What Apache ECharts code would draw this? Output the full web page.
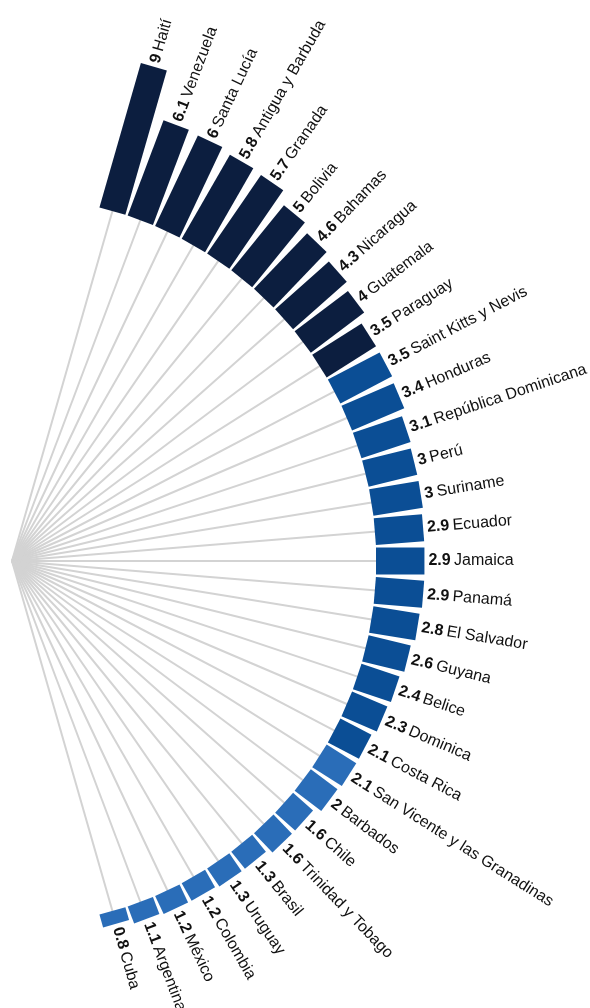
<!DOCTYPE html>
<html>
<head>
<meta charset="utf-8">
<script src="https://cdn.jsdelivr.net/npm/echarts@6/dist/echarts.min.js"></script>
<style>
html,body{margin:0;padding:0;background:#fff;}
#chart{width:590px;height:1008px;}
</style>
</head>
<body>
<div id="chart"></div>
<script>
// ---- data ----
var countries = ['Haití','Venezuela','Santa Lucía','Antigua y Barbuda','Granada','Bolivia','Bahamas','Nicaragua','Guatemala','Paraguay','Saint Kitts y Nevis','Honduras','República Dominicana','Perú','Suriname','Ecuador','Jamaica','Panamá','El Salvador','Guyana','Belice','Dominica','Costa Rica','San Vicente y las Granadinas','Barbados','Chile','Trinidad y Tobago','Brasil','Uruguay','Colombia','México','Argentina','Cuba'];
var values = [9,6.1,6,5.8,5.7,5,4.6,4.3,4,3.5,3.5,3.4,3.1,3,3,2.9,2.9,2.9,2.8,2.6,2.4,2.3,2.1,2.1,2,1.6,1.6,1.3,1.3,1.2,1.2,1.1,0.8];
var tiers = [0,0,0,0,0,0,0,0,0,0,1,1,1,1,1,1,1,1,1,1,1,1,1,2,2,2,2,2,2,2,2,2,2];

// ---- styles ----
var tierColors = ['#0c1e3f','#0b4e95','#2a6db8'];
var BAR_W = 27;
var GAP = 4;
var FONT = 'Liberation Sans, Arial, Helvetica, sans-serif';

var chart = echarts.init(document.getElementById('chart'), null, {renderer:'canvas'});
var data = values.map(function(v,i){ return [v, i]; });

chart.setOption({
  animation: false,
  polar: { center: [12, 561], radius: [364, 531] },
  angleAxis: {
    type: 'category', data: countries,
    startAngle: 76.3, endAngle: -76.3, clockwise: true,
    boundaryGap: true, show: false
  },
  radiusAxis: { type: 'value', min: 0, max: 10, show: false },
  series: [{
    type: 'custom',
    coordinateSystem: 'polar',
    encode: { radius: 0, angle: 1 },
    data: data,
    renderItem: function(params, api){
      var i = params.dataIndex;
      var v = api.value(0);
      var cs = params.coordSys;
      var p0 = api.coord([0, i]);
      var p1 = api.coord([v, i]);
      var dx = p0[0]-cs.cx, dy = p0[1]-cs.cy;
      var len = Math.sqrt(dx*dx+dy*dy);
      var ux = dx/len, uy = dy/len;
      var nx = -uy*BAR_W/2, ny = ux*BAR_W/2;
      var pts = [
        [p0[0]+nx, p0[1]+ny],
        [p1[0]+nx, p1[1]+ny],
        [p1[0]-nx, p1[1]-ny],
        [p0[0]-nx, p0[1]-ny]
      ];
      var rot = Math.atan2(-uy, ux);
      return {
        type: 'group',
        children: [
          { type: 'line', z2: 1,
            shape: { x1: cs.cx, y1: cs.cy, x2: p0[0]+ux*2, y2: p0[1]+uy*2 },
            style: { stroke: '#d3d3d3', lineWidth: 2 } },
          { type: 'polygon', z2: 2,
            shape: { points: pts },
            style: { fill: tierColors[tiers[i]] } },
          { type: 'text', z2: 3,
            x: p1[0]+ux*GAP, y: p1[1]+uy*GAP, rotation: rot,
            style: {
              text: '{v|' + values[i] + '} {n|' + countries[i] + '}',
              align: 'left', verticalAlign: 'middle',
              fill: '#111',
              rich: {
                v: { fontFamily: FONT, fontSize: 16, fontWeight: 'bold', fill: '#111' },
                n: { fontFamily: FONT, fontSize: 16, fill: '#111' }
              }
            } }
        ]
      };
    }
  }]
});
</script>
</body>
</html>
